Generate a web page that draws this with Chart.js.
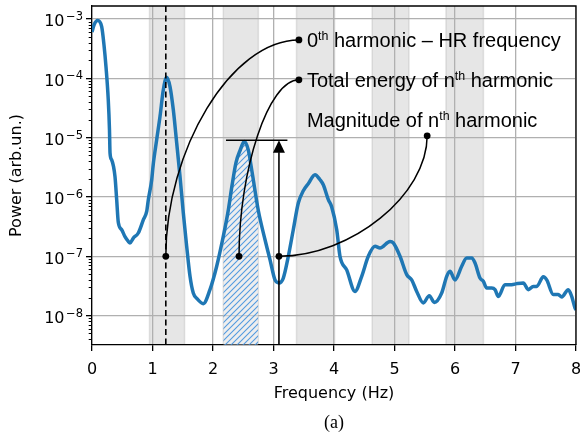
<!DOCTYPE html>
<html><head><meta charset="utf-8">
<script src="https://cdn.jsdelivr.net/npm/chart.js@4/dist/chart.umd.min.js"></script>
<style>html,body{margin:0;padding:0;background:#fff;overflow:hidden}</style>
</head><body>
<canvas id="c" width="580" height="435"></canvas>
<script>
// ---------- data ----------
const frequency = [
  0.000,0.033,0.094,0.160,0.198,0.231,0.269,0.289,0.298,0.326,
  0.380,0.408,0.435,0.491,0.545,0.600,0.628,0.683,0.765,0.848,
  0.904,0.931,0.987,1.013,1.069,1.124,1.179,1.235,1.289,1.344,
  1.400,1.455,1.509,1.565,1.620,1.674,1.736,1.840,1.950,2.061,
  2.170,2.248,2.314,2.380,2.446,2.517,2.583,2.645,2.749,2.860,2.942,
  3.025,3.091,3.162,3.245,3.327,3.410,3.493,3.575,3.686,3.769,
  3.823,3.906,3.962,4.045,4.099,4.210,4.347,4.458,4.567,4.678,
  4.760,4.926,4.980,5.091,5.202,5.284,5.367,5.476,5.575,5.658,
  5.780,5.863,5.917,6.000,6.111,6.193,6.276,6.331,6.413,6.468,
  6.524,6.607,6.661,6.716,6.826,6.937,7.020,7.129,7.212,7.294,
  7.350,7.460,7.516,7.625,7.707,7.764,7.873,7.929,7.983,8.000
];
const power = [
  6.0e-4,7.9e-4,9.4e-4,7.4e-4,3.65e-4,1.57e-4,4.3e-5,1.35e-5,5.5e-6,4.2e-6,
  2.2e-6,9.0e-7,3.7e-7,2.8e-7,2.14e-7,1.78e-7,1.68e-7,2.03e-7,2.47e-7,4.1e-7,
  5.7e-7,9.0e-7,1.95e-6,3.6e-6,9.2e-6,2.26e-5,6.4e-5,1.04e-4,7.25e-5,2.94e-5,
  8.1e-6,2.2e-6,5.4e-7,1.47e-7,4.6e-8,2.4e-8,1.93e-8,1.59e-8,2.74e-8,6.8e-8,
  2.16e-7,5.6e-7,1.55e-6,3.8e-6,6.0e-6,8.6e-6,6.2e-6,2.65e-6,5.9e-7,1.9e-7,8.8e-8,
  4.0e-8,3.56e-8,4.3e-8,1.0e-7,2.8e-7,7.9e-7,1.27e-6,1.67e-6,2.37e-6,1.95e-6,
  1.6e-6,9.0e-7,6.8e-7,2.8e-7,1.0e-7,5.9e-8,2.56e-8,4.6e-8,1.0e-7,1.47e-7,
  1.38e-7,1.78e-7,1.68e-7,1.0e-7,4.9e-8,4.0e-8,2.56e-8,1.64e-8,2.17e-8,1.67e-8,
  2.41e-8,4.6e-8,5.6e-8,4.0e-8,6.8e-8,9.4e-8,9.4e-8,7.7e-8,4.3e-8,3.8e-8,
  2.92e-8,2.92e-8,2.74e-8,2.11e-8,3.33e-8,3.33e-8,3.46e-8,3.56e-8,2.74e-8,3.11e-8,
  3.11e-8,4.5e-8,4.0e-8,2.26e-8,2.26e-8,2.07e-8,2.74e-8,2.11e-8,1.35e-8,1.25e-8
];
const harmonicBands = [[0.95,1.53],[2.17,2.75],[3.38,4.01],[4.63,5.24],[5.85,6.47]];
const hatchBand = [2.17, 2.75];
const hrFrequency = 1.22;
const xRange = [0, 8];
const yRange = [3.2e-9, 1.65e-3];
const xTickValues = [0,1,2,3,4,5,6,7,8];
const yMajorTicks = [1e-8,1e-7,1e-6,1e-5,1e-4,1e-3];
const yTickExponents = ['\u22128','\u22127','\u22126','\u22125','\u22124','\u22123'];
const magnitudeLevel = 9.0e-6;
const magnitudeSpan = [2.215, 3.23];
const magnitudeX = 3.09;
// annotation connectors: [fromFreq, fromPower, toFreq, toPower]
const connectorHR = [1.22, 1e-7, 3.42, 4.43e-4];
const connectorEnergy = [2.43, 1e-7, 3.42, 9.4e-5];
const connectorMagnitude = [3.09, 1e-7, 5.54, 1.07e-5];
const labelAnchors = [[3.42, 4.43e-4],[3.42, 9.4e-5],[3.42, 2.0e-5]];
const labelTexts = [
  [['0',0],['th',1],[' harmonic \u2013 HR frequency',0]],
  [['Total energy of n',0],['th',1],[' harmonic',0]],
  [['Magnitude of n',0],['th',1],[' harmonic',0]]
];
const captionText = '(a)';

// ---------- build ----------
const mainPoints = frequency.map((f,i)=>({x:f,y:power[i]}));
const hatchPoints = mainPoints.filter(p=>p.x>=hatchBand[0]-1e-9 && p.x<=hatchBand[1]+1e-9);

function makeHatch(){
  const s=6;
  const c=document.createElement('canvas'); c.width=s; c.height=s;
  const g=c.getContext('2d');
  g.fillStyle='rgba(255,255,255,0.35)'; g.fillRect(0,0,s,s);
  g.strokeStyle='rgba(55,140,220,0.85)'; g.lineWidth=1.1;
  g.beginPath();
  g.moveTo(-1,s+1); g.lineTo(s+1,-1);
  g.moveTo(-1,1); g.lineTo(1,-1);
  g.moveTo(s-1,s+1); g.lineTo(s+1,s-1);
  g.stroke();
  return g.createPattern(c,'repeat');
}

const yAllTicks = [];
for (let e=-9;e<=-3;e++){ for(let m=1;m<=9;m++){ const v=m*Math.pow(10,e); if(v>=yRange[0]&&v<=yRange[1]) yAllTicks.push({value:v, major:m===1}); } }

function drawRich(ctx, parts, x, y, size, family){
  let cx=x;
  ctx.textBaseline='alphabetic'; ctx.textAlign='left';
  for(const [t,sup] of parts){
    const s = sup? size*0.62 : size;
    ctx.font = s+'px '+family;
    ctx.fillText(t, cx, sup? y-size*0.38 : y);
    cx += ctx.measureText(t).width;
  }
}

function connector(ctx, x, y, c, mode){
  const x0=x.getPixelForValue(c[0]), y0=y.getPixelForValue(c[1]);
  const x3=x.getPixelForValue(c[2]), y3=y.getPixelForValue(c[3]);
  const k=0.49;
  ctx.beginPath(); ctx.moveTo(x0,y0);
  if(mode==='vh') ctx.bezierCurveTo(x0, y0+k*(y3-y0), x0+k*(x3-x0), y3, x3, y3);
  else ctx.bezierCurveTo(x0+k*(x3-x0), y0, x3, y3+k*(y0-y3), x3, y3);
  ctx.stroke();
  for(const [px,py] of [[x0,y0],[x3,y3]]){ ctx.beginPath(); ctx.arc(px,py,3.4,0,Math.PI*2); ctx.fill(); }
}

const decor = {
  id:'decor',
  beforeDraw(chart){
    const {ctx, chartArea:a, scales:{x}} = chart;
    ctx.save();
    for(const [f0,f1] of harmonicBands){
      const p0=x.getPixelForValue(f0), p1=x.getPixelForValue(f1);
      ctx.fillStyle='rgba(128,128,128,0.2)';
      ctx.fillRect(p0,a.top,p1-p0,a.bottom-a.top);
      ctx.strokeStyle='rgba(128,128,128,0.2)'; ctx.lineWidth=1.5;
      ctx.beginPath(); ctx.moveTo(p0,a.top); ctx.lineTo(p0,a.bottom); ctx.moveTo(p1,a.top); ctx.lineTo(p1,a.bottom); ctx.stroke();
    }
    ctx.restore();
  },
  afterDatasetsDraw(chart){
    const {ctx, chartArea:a, scales:{x,y}} = chart;
    ctx.save();
    ctx.strokeStyle='#000'; ctx.lineWidth=1;
    for(const t of yAllTicks){ if(t.major) continue; const py=Math.round(y.getPixelForValue(t.value))+0.5; ctx.beginPath(); ctx.moveTo(a.left,py); ctx.lineTo(a.left-3.3,py); ctx.stroke(); }
    ctx.lineWidth=1.3;
    ctx.beginPath(); ctx.moveTo(a.left,a.top); ctx.lineTo(a.right,a.top); ctx.lineTo(a.right,a.bottom); ctx.stroke();
    const hx=x.getPixelForValue(hrFrequency);
    ctx.setLineDash([6,3.5]); ctx.lineWidth=1.6;
    ctx.beginPath(); ctx.moveTo(hx,a.top); ctx.lineTo(hx,a.bottom); ctx.stroke();
    ctx.setLineDash([]);
    const my=y.getPixelForValue(magnitudeLevel);
    ctx.lineWidth=1.6;
    ctx.beginPath(); ctx.moveTo(x.getPixelForValue(magnitudeSpan[0]),my); ctx.lineTo(x.getPixelForValue(magnitudeSpan[1]),my); ctx.stroke();
    const mx=x.getPixelForValue(magnitudeX);
    ctx.beginPath(); ctx.moveTo(mx,a.bottom); ctx.lineTo(mx,my+12); ctx.stroke();
    ctx.fillStyle='#000';
    ctx.beginPath(); ctx.moveTo(mx,my); ctx.lineTo(mx-6,my+12.5); ctx.lineTo(mx+6,my+12.5); ctx.closePath(); ctx.fill();
    ctx.lineWidth=1.5;
    connector(ctx,x,y,connectorHR,'vh');
    connector(ctx,x,y,connectorEnergy,'vh');
    connector(ctx,x,y,connectorMagnitude,'hv');
    ctx.restore();
  },
  afterDraw(chart){
    const {ctx, chartArea:a, scales:{x,y}} = chart;
    ctx.save();
    ctx.fillStyle='#000';
    yMajorTicks.forEach((v,i)=>{
      const py=y.getPixelForValue(v);
      ctx.font='16px "DejaVu Sans"';
      const w1=ctx.measureText('10').width;
      ctx.font='11.5px "DejaVu Sans"';
      const w2=ctx.measureText(yTickExponents[i]).width;
      const right=a.left-9;
      const left=right-w1-w2-1.5;
      ctx.textAlign='left'; ctx.textBaseline='alphabetic';
      ctx.font='16px "DejaVu Sans"';
      ctx.fillText('10',left,py+7.5);
      ctx.font='11.5px "DejaVu Sans"';
      ctx.fillText(yTickExponents[i],left+w1+1.5,py+1);
    });
    labelTexts.forEach((parts,i)=>{
      const px=x.getPixelForValue(labelAnchors[i][0])+8;
      const py=y.getPixelForValue(labelAnchors[i][1])+7.5;
      drawRich(ctx,parts,px,py,20,'"Liberation Sans", Arial, sans-serif');
    });
    ctx.font='18px "Liberation Serif", "Times New Roman", serif';
    ctx.textAlign='center'; ctx.textBaseline='alphabetic';
    ctx.fillText(captionText,(a.left+a.right)/2,428);
    ctx.restore();
  }
};

new Chart(document.getElementById('c'), {
  type:'line',
  data:{datasets:[
    {data:mainPoints, borderColor:'#1f77b4', borderWidth:3.5, pointRadius:0, fill:false, cubicInterpolationMode:'monotone', order:0},
    {data:hatchPoints, borderWidth:0, borderColor:'rgba(0,0,0,0)', pointRadius:0, fill:'start', backgroundColor:makeHatch(), cubicInterpolationMode:'monotone', order:1}
  ]},
  options:{
    responsive:false, animation:false, devicePixelRatio:1,
    layout:{padding:{left:0,right:4,top:6,bottom:0}},
    plugins:{legend:{display:false}, tooltip:{enabled:false}},
    scales:{
      x:{type:'linear', min:xRange[0], max:xRange[1],
        afterBuildTicks:(s)=>{ s.ticks = xTickValues.map(v=>({value:v})); },
        afterFit:(s)=>{ s.height=90; s.paddingLeft=0; s.paddingRight=0; },
        ticks:{color:'#000', font:{family:'DejaVu Sans', size:16}, padding:9, maxRotation:0, autoSkip:false},
        grid:{color:'#b0b0b0', lineWidth:1.3, tickColor:'#000', tickLength:6, tickWidth:1.3},
        border:{color:'#000', width:1.3},
        title:{display:true, text:'Frequency (Hz)', color:'#000', font:{family:'DejaVu Sans', size:16}, padding:{top:0,bottom:32}}
      },
      y:{type:'logarithmic', min:yRange[0], max:yRange[1],
        afterBuildTicks:(s)=>{ s.ticks = yAllTicks.map(t=>({value:t.value, major:t.major})); },
        afterFit:(s)=>{ s.width=92; s.paddingTop=0; s.paddingBottom=0; },
        ticks:{callback:()=>'', autoSkip:false, font:{size:16}},
        grid:{color:(c)=>c.tick&&c.tick.major?'#b0b0b0':'rgba(0,0,0,0)', lineWidth:1.3,
              tickColor:(c)=>c.tick&&c.tick.major?'#000':'rgba(0,0,0,0)', tickLength:6, tickWidth:1.3},
        border:{color:'#000', width:1.3},
        title:{display:true, text:'Power (arb.un.)', color:'#000', font:{family:'DejaVu Sans', size:16}, padding:{top:7,bottom:0}}
      }
    }
  },
  plugins:[decor]
});
</script>
</body></html>
